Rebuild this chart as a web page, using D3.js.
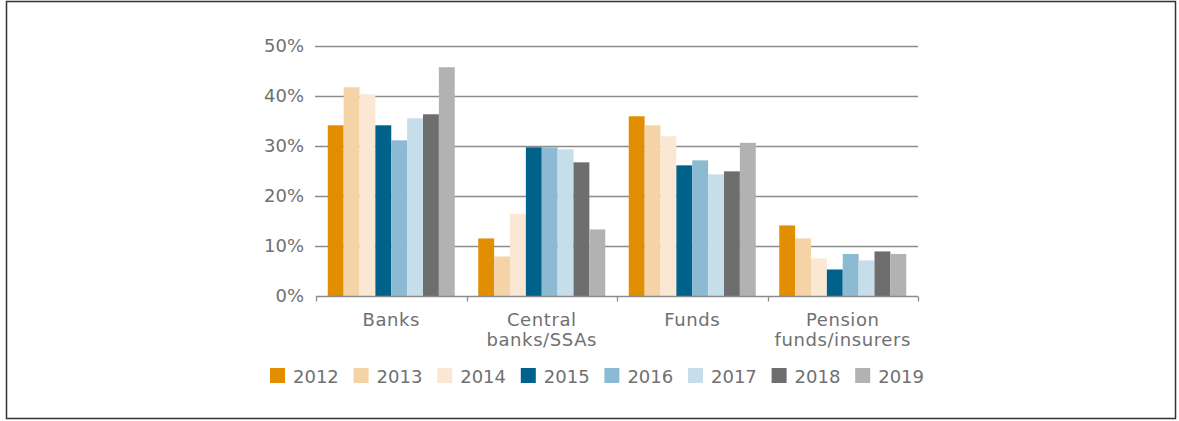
<!DOCTYPE html>
<html>
<head>
<meta charset="utf-8">
<script src="https://d3js.org/d3.v7.min.js"></script>
<style>
  body { margin: 0; background: #fff; }
  text { font-family: "DejaVu Sans", Verdana, sans-serif; fill: #707070; }
</style>
</head>
<body>
<div id="chart"></div>
<script>
// categories and years
var categories = ["Banks", "Central banks/SSAs", "Funds", "Pension funds/insurers"];
var categoryLines = [["Banks"], ["Central", "banks/SSAs"], ["Funds"], ["Pension", "funds/insurers"]];
var years = ["2012", "2013", "2014", "2015", "2016", "2017", "2018", "2019"];
var colors = ["#e18e00", "#f4d3a6", "#fbe8d4", "#00618a", "#8cbad3", "#c6ddea", "#6e6e6e", "#b2b2b2"];

// share in %, one array per category, ordered by year
var banks    = [34.1, 41.7, 40.3, 34.1, 31.1, 35.5, 36.3, 45.7];
var central  = [11.5, 7.9, 16.4, 29.7, 29.7, 29.3, 26.7, 13.3];
var funds    = [35.9, 34.1, 31.9, 26.1, 27.1, 24.3, 24.9, 30.6];
var pension  = [14.1, 11.5, 7.5, 5.3, 8.4, 7.1, 8.9, 8.4];
var values = [banks, central, funds, pension];

var yTicks = [0, 10, 20, 30, 40, 50];

var width = 1179, height = 421;

var svg = d3.select("#chart").append("svg")
    .attr("width", width)
    .attr("height", height);

// frame
svg.append("rect")
    .attr("x", 6.5).attr("y", 1.5)
    .attr("width", 1169).attr("height", 417)
    .attr("fill", "none")
    .attr("stroke", "#333")
    .attr("stroke-width", 1.5);

var x = d3.scaleBand().domain(categories).range([316, 918]).padding(0);
var xi = d3.scaleBand().domain(years).range([0, x.bandwidth()]).paddingInner(0).paddingOuter(0.74);
var y = d3.scaleLinear().domain([0, 50]).range([296, 45.7]);

// gridlines
svg.append("g")
  .selectAll("line")
  .data(yTicks.slice(1))
  .enter().append("line")
    .attr("x1", 315).attr("x2", 918)
    .attr("y1", function(d) { return Math.round(y(d)) + 0.5; })
    .attr("y2", function(d) { return Math.round(y(d)) + 0.5; })
    .attr("stroke", "#8c8c8c")
    .attr("stroke-width", 1.3);

// y labels
svg.append("g")
  .selectAll("text")
  .data(yTicks)
  .enter().append("text")
    .attr("x", 304)
    .attr("y", function(d) { return y(d); })
    .attr("dy", "0.36em")
    .attr("text-anchor", "end")
    .style("font-size", "18px")
    .text(function(d) { return d + "%"; });

// bars
var groups = svg.append("g")
  .selectAll("g")
  .data(categories)
  .enter().append("g")
    .attr("transform", function(d) { return "translate(" + x(d) + ",0)"; });

groups.selectAll("rect")
  .data(function(d, i) { return values[i].map(function(v, j) { return {year: years[j], v: v, c: colors[j]}; }); })
  .enter().append("rect")
    .attr("x", function(d) { return xi(d.year); })
    .attr("width", xi.bandwidth())
    .attr("y", function(d) { return y(d.v); })
    .attr("height", function(d) { return y(0) - y(d.v); })
    .attr("fill", function(d) { return d.c; });

// x axis with category boundary ticks
var axisY = Math.round(y(0)) + 0.5;
svg.append("line")
    .attr("x1", 316).attr("x2", 918)
    .attr("y1", axisY).attr("y2", axisY)
    .attr("stroke", "#8c8c8c").attr("stroke-width", 1.3);
var bounds = categories.map(function(c) { return x(c); }).concat([x.range()[1]]);
svg.append("g")
  .selectAll("line")
  .data(bounds)
  .enter().append("line")
    .attr("x1", function(d) { return Math.round(d) + 0.5; })
    .attr("x2", function(d) { return Math.round(d) + 0.5; })
    .attr("y1", axisY).attr("y2", axisY + 5)
    .attr("stroke", "#8c8c8c").attr("stroke-width", 1.3);

// category labels
svg.append("g")
  .selectAll("text")
  .data(categories)
  .enter().append("text")
    .attr("text-anchor", "middle")
    .attr("x", function(d) { return x(d) + x.bandwidth() / 2; })
    .attr("y", 326)
    .style("font-size", "18px")
    .style("letter-spacing", "0.6px")
    .each(function(d, i) {
      var t = d3.select(this);
      categoryLines[i].forEach(function(line, k) {
        t.append("tspan")
          .attr("x", x(d) + x.bandwidth() / 2)
          .attr("dy", k === 0 ? 0 : 19.5)
          .text(line);
      });
    });

// legend
var legend = svg.append("g")
  .selectAll("g")
  .data(years)
  .enter().append("g")
    .attr("transform", function(d, i) { return "translate(" + (270 + i * 83.6) + ",368)"; });
legend.append("rect")
    .attr("width", 15).attr("height", 15)
    .attr("fill", function(d, i) { return colors[i]; });
legend.append("text")
    .attr("x", 23).attr("y", 15)
    .style("font-size", "18px")
    .text(function(d) { return d; });
</script>
</body>
</html>
